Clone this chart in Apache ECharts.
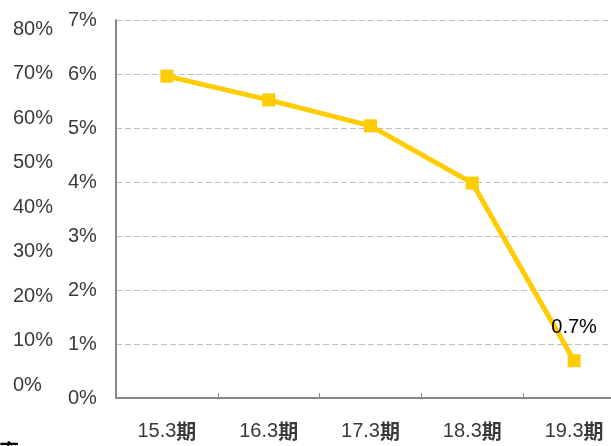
<!DOCTYPE html>
<html><head><meta charset="utf-8">
<script src="https://cdn.jsdelivr.net/npm/echarts@6/dist/echarts.min.js"></script>
<style>html,body{margin:0;padding:0;background:#fff;overflow:hidden;width:611px;height:446px}#c{width:630px;height:446px}</style>
</head><body><div id="c"></div>
<script>
const categories = ['15.3期','16.3期','17.3期','18.3期','19.3期'];
const values = [5.96, 5.52, 5.04, 3.98, 0.69];
const labels = ['', '', '', '', '0.7%'];
const outerTicks = [0, 10, 20, 30, 40, 50, 60, 70, 80];

const chart = echarts.init(document.getElementById('c'), null, {renderer: 'canvas'});
const font = 'Arial, "Liberation Sans", "Noto Sans CJK SC", sans-serif';
chart.setOption({
  animation: false,
  grid: [
    {left: 116, top: 20, width: 509, height: 378},
    {left: 60, top: 29, width: 10, height: 356}
  ],
  xAxis: [
    {type: 'category', gridIndex: 0, data: categories,
     axisLine: {lineStyle: {color: '#898989', width: 2}},
     axisTick: {show: true, inside: true, length: 5, interval: 0, lineStyle: {color: '#898989', width: 1}},
     axisLabel: {color: '#3a3a3a', fontSize: 20, fontFamily: font, margin: 23, interval: 0,
       formatter: v => v.replace('期', '') + '{b|期}',
       rich: {b: {fontWeight: 'bold', fontSize: 20, color: '#3a3a3a', fontFamily: '"Noto Sans CJK SC", sans-serif'}}}},
    {type: 'value', gridIndex: 1, show: false}
  ],
  yAxis: [
    {type: 'value', gridIndex: 0, min: 0, max: 7, interval: 1,
     axisLine: {show: true, lineStyle: {color: '#898989', width: 2}},
     axisTick: {show: false},
     splitLine: {lineStyle: {color: '#c0c0c0', type: [6, 3], width: 1}},
     axisLabel: {color: '#3a3a3a', fontSize: 20, fontFamily: font, align: 'left', margin: 48,
       formatter: v => v + '%'}},
    {type: 'value', gridIndex: 1, min: outerTicks[0], max: outerTicks[outerTicks.length-1], interval: 10,
     axisLine: {show: false}, axisTick: {show: false}, splitLine: {show: false},
     axisLabel: {color: '#3a3a3a', fontSize: 20, fontFamily: font, align: 'left', margin: 47,
       formatter: v => v + '%'}}
  ],
  series: [{
    type: 'line', xAxisIndex: 0, yAxisIndex: 0, data: values,
    lineStyle: {color: '#FFCC00', width: 5},
    itemStyle: {color: '#FFCC00'},
    symbol: 'rect', symbolSize: 13,
    label: {show: true, position: 'top', distance: 17, color: '#000', fontSize: 20, fontFamily: font,
      formatter: p => labels[p.dataIndex]}
  }],
  graphic: [{type: 'text', left: -1, top: 441,
    style: {text: '率', font: 'bold 20px "Noto Sans CJK SC", sans-serif', fill: '#000'}}]
});
</script></body></html>
